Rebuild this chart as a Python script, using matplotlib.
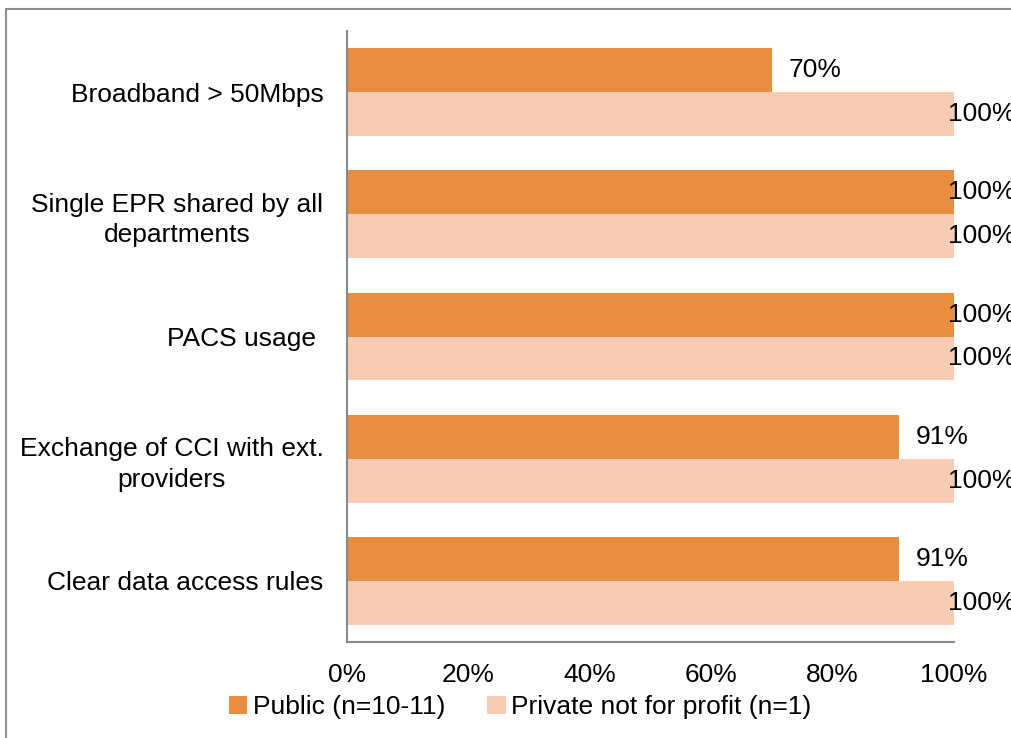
import matplotlib.pyplot as plt
import numpy as np
from matplotlib.patches import Rectangle

plt.rcParams['font.family'] = ['Liberation Sans', 'DejaVu Sans']

# data
categories = ['Broadband > 50Mbps',
              'Single EPR shared by all\ndepartments',
              'PACS usage ',
              'Exchange of CCI with ext.\nproviders',
              'Clear data access rules']
public = [70, 100, 100, 91, 91]
private = [100, 100, 100, 100, 100]
series_names = ['Public (n=10-11)', 'Private not for profit (n=1)']

col_public = '#E88E41'
col_private = '#F8CBB5'

fig = plt.figure(figsize=(10.12, 7.38), dpi=100)
ax = fig.add_axes([347/1012, 1-642/738, (954-347)/1012, (642-31)/738])

y = np.arange(len(categories))
h = 0.36
b1 = ax.barh(y - h/2, public, height=h, color=col_public, label=series_names[0])
b2 = ax.barh(y + h/2, private, height=h, color=col_private, label=series_names[1])

# data labels (Excel pushes the 100% ones back inside the chart)
for bars, vals in [(b1, public), (b2, private)]:
    for bar, v in zip(bars, vals):
        cy = bar.get_y() + bar.get_height()/2
        off = 12 if v < 100 else -4
        ax.annotate('%d%%' % v, (v, cy), xytext=(off, 0), textcoords='offset points',
                    ha='left', va='center', fontsize=19, color='black',
                    annotation_clip=False)

ax.set_xlim(0, 100)
ax.set_ylim(len(categories) - 0.5, -0.5)
ax.set_xticks([0, 20, 40, 60, 80, 100])
ax.set_xticklabels(['0%', '20%', '40%', '60%', '80%', '100%'])
ax.set_yticks(y)
ax.set_yticklabels(categories, multialignment='center', linespacing=1.35)
ax.tick_params(axis='both', length=0, labelsize=19, colors='black')
ax.tick_params(axis='y', pad=17)
ax.tick_params(axis='x', pad=15)

for s in ['top', 'right']:
    ax.spines[s].set_visible(False)
for s in ['left', 'bottom']:
    ax.spines[s].set_color('#898989')
    ax.spines[s].set_linewidth(1.5)

fig.legend(loc='center', bbox_to_anchor=(520/1012, 1-707/738), ncol=2, frameon=False,
           fontsize=19, handlelength=0.7, handleheight=0.7, handletextpad=0.2,
           columnspacing=1.6, borderaxespad=0)

# chart area border (cut by image edge)
fig.patches.append(Rectangle((6/1012, -0.1), 1.2, 1.1 - 9/738, transform=fig.transFigure,
                             fill=False, edgecolor='#8E8E8E', linewidth=1.5))

fig.savefig('out.png', dpi=100)
